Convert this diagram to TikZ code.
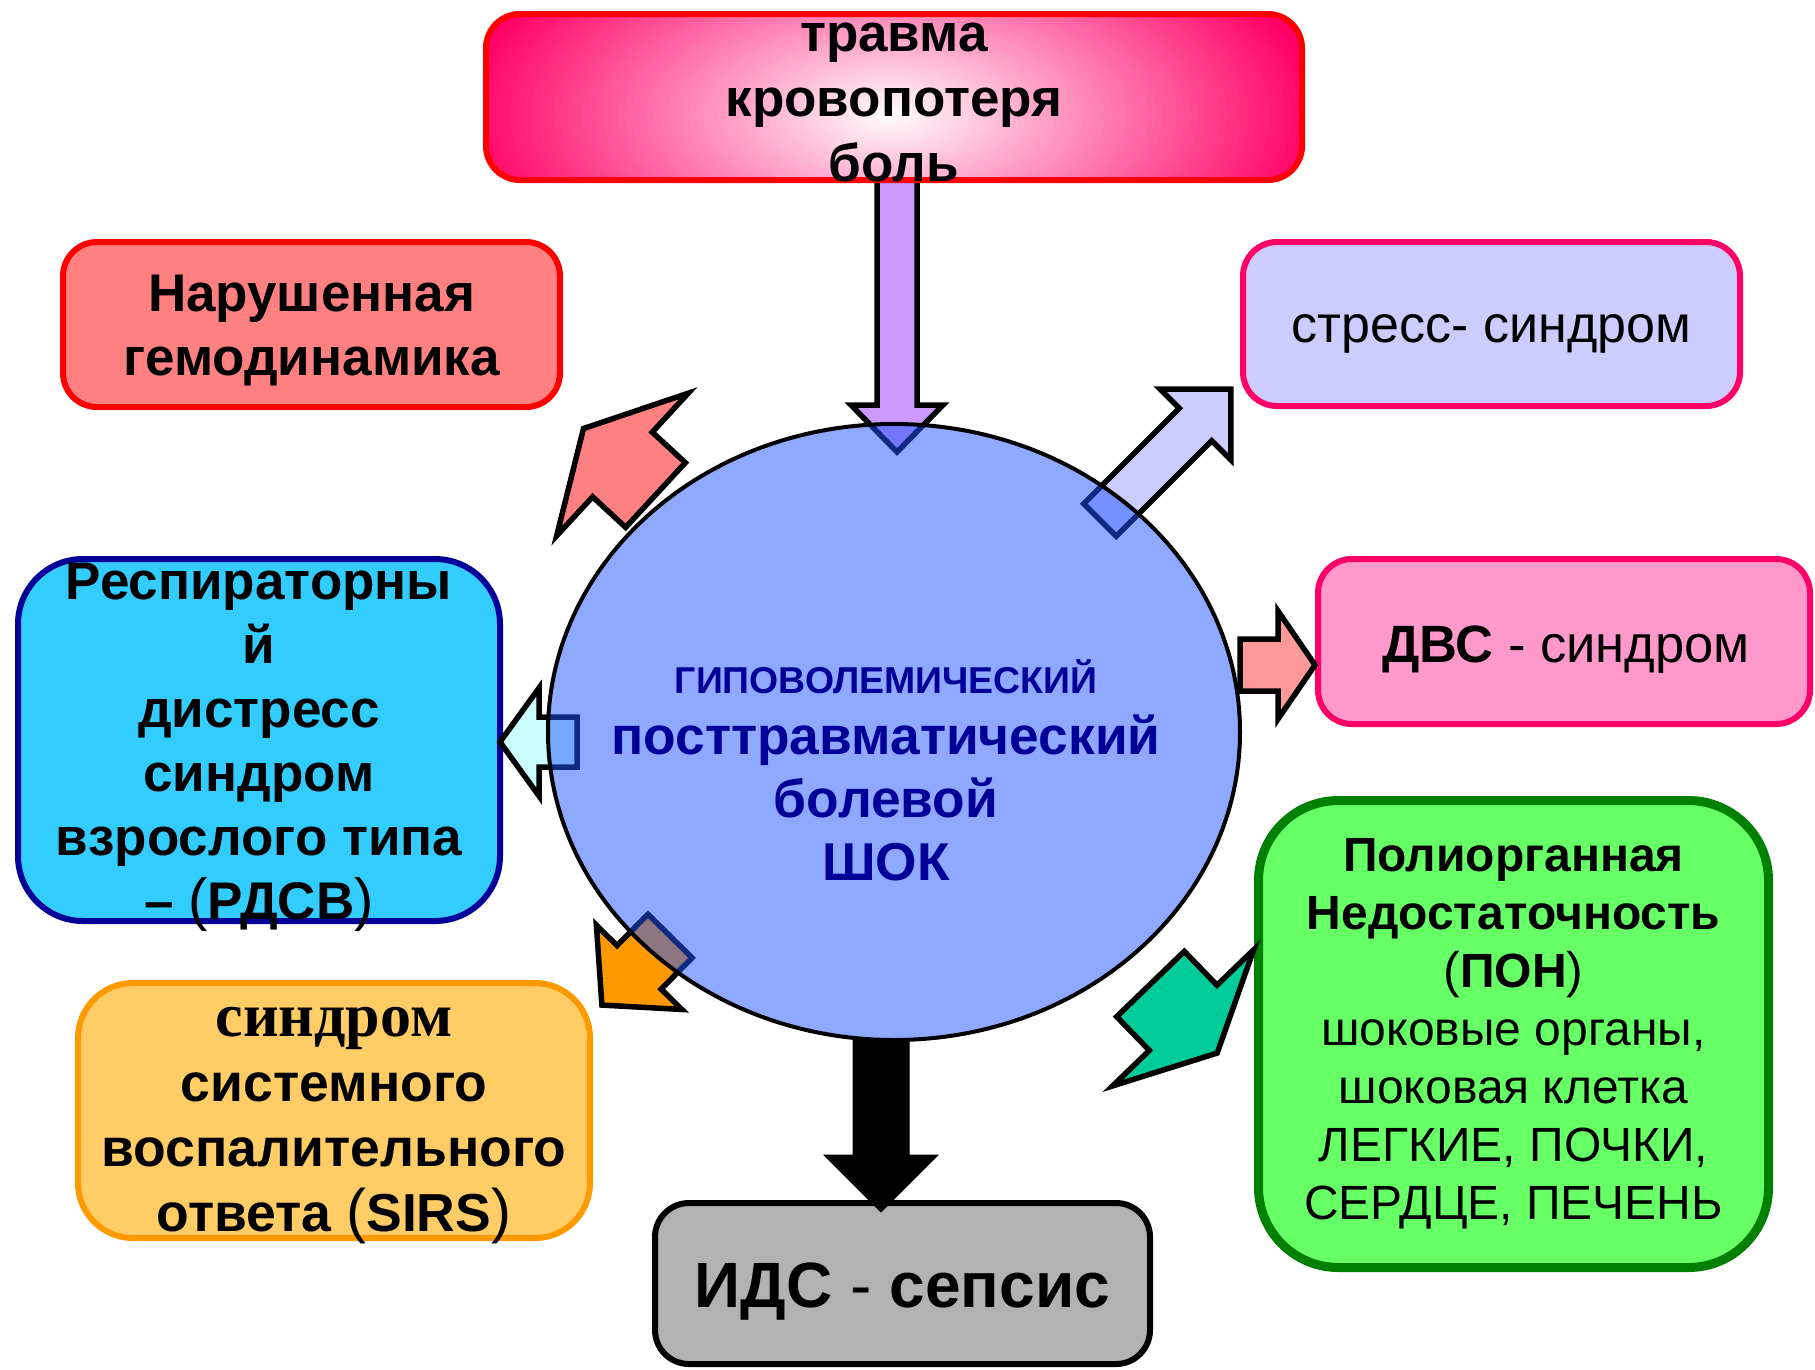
\documentclass[tikz,border=0pt]{standalone}
\usepackage{fontspec}
\setmainfont{Liberation Sans}
\newfontfamily\seriffont{Liberation Serif}
\usetikzlibrary{shapes.geometric}
\definecolor{pinkC}{HTML}{FF0066}
\definecolor{hemoFill}{HTML}{FF8080}
\definecolor{stressFill}{HTML}{CCCCFF}
\definecolor{dvsFill}{HTML}{FF99CC}
\definecolor{ponFill}{HTML}{66FF66}
\definecolor{ponLine}{HTML}{008000}
\definecolor{rdsvFill}{HTML}{33CCFF}
\definecolor{navyC}{HTML}{000099}
\definecolor{sirsFill}{HTML}{FFCC66}
\definecolor{sirsLine}{HTML}{FF9900}
\definecolor{idsFill}{HTML}{B2B2B2}
\definecolor{shockFill}{RGB}{31,85,255}
\definecolor{arrPurple}{HTML}{CC99FF}
\definecolor{arrLilac}{HTML}{CCCCFF}
\definecolor{arrRed}{HTML}{FF8080}
\definecolor{arrCyan}{HTML}{CCFFFF}
\definecolor{arrSalmon}{HTML}{FF9999}
\definecolor{arrTeal}{HTML}{00CC99}
\definecolor{arrOrange}{HTML}{FF9900}
\newcommand\fsz[2]{\fontsize{#1pt}{#2pt}\selectfont}
\newcommand\rp[1]{{\mdseries\fontsize{#1pt}{#1pt}\selectfont(}}
\newcommand\lp[1]{{\mdseries\fontsize{#1pt}{#1pt}\selectfont)}}
% #1 style, #2 tail coordinate, #3 angle, #4 length, #5 head length, #6 head half width, #7 shaft half width
\newcommand\blockarrow[7]{%
  \begin{scope}[shift={(#2)},rotate=#3]
    \draw[#1] (0,{-#7}) -- ({#4-#5},{-#7}) -- ({#4-#5},{-#6}) -- (#4,0)
      -- ({#4-#5},#6) -- ({#4-#5},#7) -- (0,#7) -- cycle;
  \end{scope}}
\begin{document}
\begin{tikzpicture}[x=1pt,y=-1pt,
  box/.style={rectangle, rounded corners=34pt, line width=6pt, inner sep=0pt},
  txt/.style={align=center, inner sep=0pt},
  blk/.style={line width=5.5pt, draw=black, line join=miter, miter limit=20},
  shocktxt/.style={txt, text=navyC}
]
\fill[white] (0,0) rectangle (1815,1369);
\useasboundingbox (0,0) rectangle (1815,1369);

% gradient fill of the top box
\begin{scope}
  \clip[rounded corners=34pt] (486,14) rectangle (1302,180);
  \fill[pinkC] (486,14) rectangle (1302,180);
  \foreach \k in {1,...,60}{
    \pgfmathsetmacro\pc{100*(1-\k/60)}
    \pgfmathsetmacro\rx{430*(1-\k/60)}
    \pgfmathsetmacro\ry{220*(1-\k/60)}
    \fill[pinkC!\pc!white] (890,115) ellipse [x radius=\rx, y radius=\ry];
  }
\end{scope}

% arrow tails
\coordinate (tTop) at (897,180);
\coordinate (tStress) at (1100,520);
\coordinate (tHemo) at (655.5,495);
\coordinate (tRdsv) at (577,742);
\coordinate (tDvs) at (1240,665);
\coordinate (tPon) at (1150.5,984);
\coordinate (tSirs) at (670,936);
\coordinate (tIds) at (881,1040);

\blockarrow{blk, fill=arrPurple}{tTop}{-90}{272}{47}{46}{20}

% boxes
\node[box, draw=red, minimum width=816pt, minimum height=166pt] (trauma) at (894,97) {};
\node[txt, font=\fsz{53}{65}\bfseries] (traumaT) at (894,103) {\strut травма\\кровопотеря\\боль\strut};

\node[box, draw=red, fill=hemoFill, minimum width=497pt, minimum height=165pt] (hemo) at (311.5,324.5) {};
\node[txt, font=\fsz{53}{64}\bfseries] (hemoT) at (311.5,330.5) {\strut Нарушенная\\гемодинамика\strut};

\node[box, draw=pinkC, fill=stressFill, minimum width=497pt, minimum height=164pt] (stress) at (1491.5,324) {};
\node[txt, font=\fsz{52}{64}] (stressT) at (1491.5,330) {\strut стресс- синдром\strut};

\node[box, draw=pinkC, fill=dvsFill, minimum width=492pt, minimum height=165pt] (dvs) at (1564,641.5) {};
\node[txt, font=\fsz{52.5}{64}] (dvsT) at (1566,649.5) {\strut\textbf{ДВС} - синдром\strut};

\node[box, draw=ponLine, line width=9pt, fill=ponFill, rounded corners=80pt, minimum width=510pt, minimum height=467pt] (pon) at (1513.5,1034) {};
\node[txt, font=\fsz{48}{58}] (ponT) at (1513.5,1034)
  {\strut\textbf{Полиорганная}\\\textbf{Недостаточность}\\\textbf{\rp{50}ПОН\lp{50}}\\шоковые органы,\\шоковая клетка\\ЛЕГКИЕ, ПОЧКИ,\\СЕРДЦЕ, ПЕЧЕНЬ\strut};

\node[box, draw=navyC, fill=rdsvFill, rounded corners=65pt, minimum width=482pt, minimum height=362pt] (rdsv) at (259,740) {};
\node[txt, font=\fsz{53}{64}\bfseries] (rdsvT) at (259,746.5)
  {\strut Респираторны\\й\\дистресс\\синдром\\взрослого типа\\– \rp{58}РДСВ\lp{58}\strut};

\node[box, draw=sirsLine, fill=sirsFill, rounded corners=55pt, minimum width=512pt, minimum height=255pt] (sirs) at (334,1110.5) {};
\node[txt, font=\fsz{53.5}{65}\bfseries] (sirsT) at (334,1121)
  {\strut{\seriffont\fsz{62}{65}\bfseries синдром}\\системного\\воспалительного\\ответа \rp{60}SIRS\lp{60}\strut};

\node[box, draw=black, fill=idsFill, minimum width=495pt, minimum height=161pt] (ids) at (902.5,1283.5) {};
\node[txt, font=\fsz{64}{74}] (idsT) at (902.5,1293) {\strut\textbf{ИДС} - \textbf{сепсис}\strut};

% outgoing arrows
\blockarrow{blk, fill=arrLilac}{tStress}{45}{185}{50}{50}{23}
\blockarrow{blk, fill=arrRed}{tHemo}{137.3}{98}{53}{97}{44}
\blockarrow{blk, fill=arrCyan}{tRdsv}{180}{77}{39}{54}{25}
\blockarrow{blk, fill=arrSalmon}{tDvs}{0}{75}{37}{54}{26}
\blockarrow{blk, fill=arrTeal}{tPon}{-46}{96}{49}{98}{47}
\blockarrow{blk, fill=arrOrange}{tSirs}{-134.6}{97}{53}{60}{31}

% central shock
\node[ellipse, draw=black, line width=4pt, fill=shockFill, fill opacity=0.5, minimum width=692pt, minimum height=616pt, inner sep=0pt] (shock) at (894,732) {};
\node[shocktxt, font=\fsz{37.4}{43}\bfseries] (hypo) at (886,677) {ГИПОВОЛЕМИЧЕСКИЙ};
\node[shocktxt, font=\fsz{53.3}{63}\bfseries] (post) at (886,804.5) {\strut посттравматический\\болевой\\ШОК\strut};

\blockarrow{fill=black, draw=black, line width=1pt, line join=miter}{tIds}{-90}{172}{57}{57}{28}
\end{tikzpicture}
\end{document}
